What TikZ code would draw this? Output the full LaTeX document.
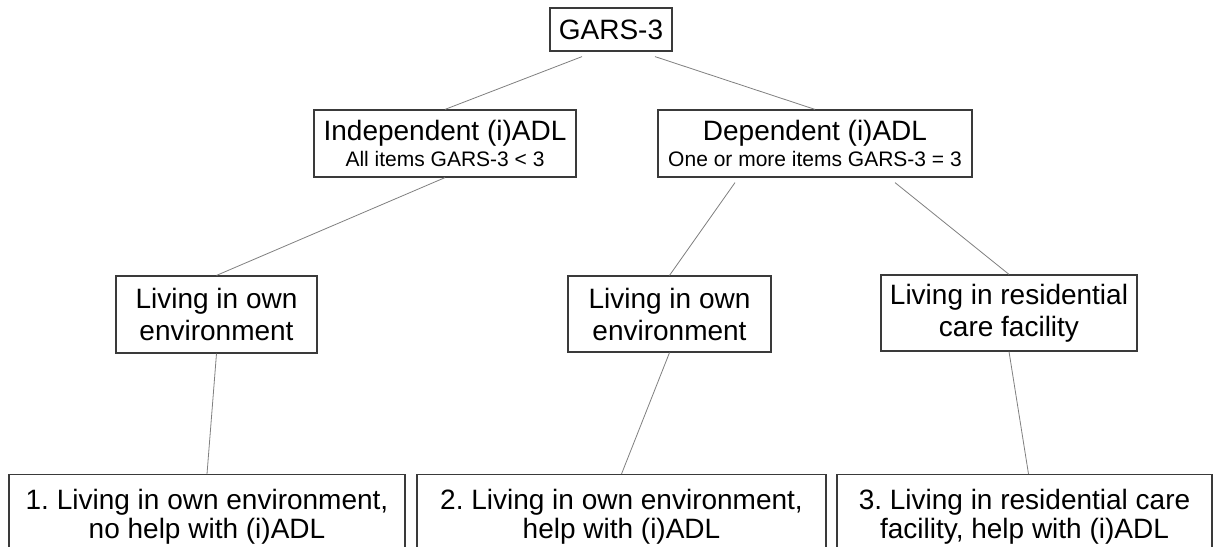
\documentclass[tikz,border=0pt]{standalone}
\usepackage{fontspec}
\setmainfont{Liberation Sans}
\definecolor{boxline}{HTML}{3A3A3A}
\definecolor{connline}{HTML}{808080}
\begin{document}
\begin{tikzpicture}[x=1pt,y=-1pt,
  box/.style={draw=boxline,line width=1.2pt,fill=white,inner xsep=0pt,inner ysep=0pt,
    align=center,font=\fontsize{28}{32}\selectfont},
  twobox/.style={box,font=\fontsize{28}{26}\selectfont},
  botbox/.style={draw=boxline,line width=1.2pt,fill=white,inner xsep=0pt,inner ysep=15pt,
    align=center,font=\frenchspacing\fontsize{28}{29}\selectfont,text depth=30pt,anchor=north},
  conn/.style={draw=connline,line width=0.8pt}]
\useasboundingbox (0,0) rectangle (1215,546);
\clip (0,0) rectangle (1215,546);
\fill[white] (0,0) rectangle (1215,546);

\node[box,minimum width=122pt,minimum height=43pt] (g) at (611,29.5) {GARS-3};
\node[twobox,minimum width=262pt,minimum height=67pt] (i) at (445,143.5)
  {Independent (i)ADL\\{\fontsize{21}{26}\selectfont All items GARS-3 < 3}};
\node[twobox,minimum width=314pt,minimum height=67pt] (d) at (815,143.5)
  {Dependent (i)ADL\\{\fontsize{21}{26}\selectfont One or more items GARS-3 = 3}};
\node[box,minimum width=201pt,minimum height=77pt] (l1) at (216.5,314.5)
  {Living in own\\environment};
\node[box,minimum width=203pt,minimum height=76pt] (l2) at (669.5,314)
  {Living in own\\environment};
\node[box,minimum width=256pt,minimum height=76pt] (l3) at (1009,313)
  {Living in residential\\care facility};
\node[botbox,minimum width=396pt] (b1) at (207,474)
  {1. Living in own environment,\\no help with (i)ADL};
\node[botbox,minimum width=409pt] (b2) at (621.5,474)
  {2. Living in own environment,\\help with (i)ADL};
\node[botbox,minimum width=375pt] (b3) at (1024.5,474)
  {3. Living in residential care\\facility, help with (i)ADL};

\draw[conn] ([xshift=-29pt,yshift=-5pt]g.south) -- (i.north);
\draw[conn] ([xshift=44pt,yshift=-5pt]g.south) -- (d.north);
\draw[conn] (i.south) -- (l1.north);
\draw[conn] ([xshift=-80pt,yshift=-5pt]d.south) -- (l2.north);
\draw[conn] ([xshift=80pt,yshift=-5pt]d.south) -- (l3.north);
\draw[conn] (l1.south) -- (b1.north);
\draw[conn] (l2.south) -- (b2.north);
\draw[conn] (l3.south) -- ([xshift=4pt]b3.north);
\end{tikzpicture}
\end{document}
